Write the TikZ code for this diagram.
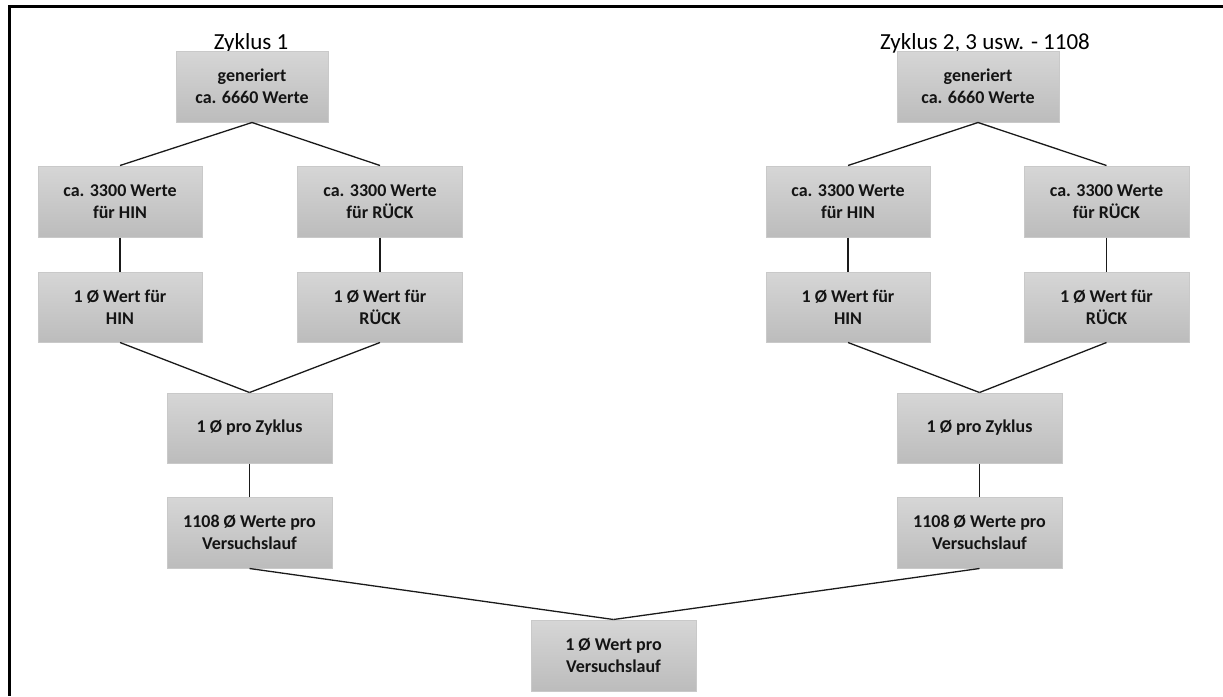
\documentclass[tikz,border=0pt]{standalone}
\usepackage{fontspec}
\setmainfont{Carlito}
\definecolor{boxtop}{HTML}{D6D6D6}
\definecolor{boxbot}{HTML}{BCBCBC}
\definecolor{boxline}{HTML}{C9C9C9}
\definecolor{txt}{HTML}{141414}
\definecolor{conn}{HTML}{1A1A1A}
\tikzset{
  box/.style={draw=boxline, line width=1pt, top color=boxtop, bottom color=boxbot,
    minimum width=165pt, minimum height=71pt, inner sep=0pt, align=center,
    text=txt, font=\bfseries\fontsize{18}{21.8}\selectfont},
  title/.style={anchor=base, inner sep=0pt, text=black, font=\fontsize{23}{27}\selectfont},
  conn/.style={draw=conn, line width=1.3pt}
}
\begin{document}
\begin{tikzpicture}[x=1pt,y=-1pt]
\useasboundingbox (0,0) rectangle (1223,696);
% frame (top and left only)
\coordinate (ftr) at (1223,6.5);
\coordinate (ftl) at (9.5,6.5);
\coordinate (fbl) at (9.5,696);
\draw[line width=2.2pt] (ftr) -- (ftl) -- (fbl);
% titles
\node[title] (t1) at (251,49) {Zyklus 1};
\node[title] (t2) at (985,49) {Zyklus 2, 3 usw. - 1108};
% left cycle
\node[box, minimum width=152pt] (gL) at (252,86.5) {generiert\\ca. 6660 Werte};
\node[box, minimum width=164pt] (hL) at (120,201.5) {ca. 3300 Werte\\für HIN};
\node[box] (rL) at (380,201.5) {ca. 3300 Werte\\für RÜCK};
\node[box, minimum width=164pt, minimum height=70pt] (whL) at (120,307) {1 Ø Wert für\\HIN};
\node[box, minimum height=70pt] (wrL) at (380,307) {1 Ø Wert für\\RÜCK};
\node[box, minimum height=70pt] (zL) at (249.5,428) {1 Ø pro Zyklus};
\node[box] (vL) at (249.5,532.5) {1108 Ø Werte pro\\Versuchslauf};
% right cycle
\node[box, minimum width=162pt] (gR) at (978,86.5) {generiert\\ca. 6660 Werte};
\node[box, minimum width=164pt] (hR) at (848,201.5) {ca. 3300 Werte\\für HIN};
\node[box] (rR) at (1106.5,201.5) {ca. 3300 Werte\\für RÜCK};
\node[box, minimum width=164pt, minimum height=70pt] (whR) at (848,307) {1 Ø Wert für\\HIN};
\node[box, minimum height=70pt] (wrR) at (1106.5,307) {1 Ø Wert für\\RÜCK};
\node[box, minimum height=70pt] (zR) at (979.5,428) {1 Ø pro Zyklus};
\node[box] (vR) at (979.5,532.5) {1108 Ø Werte pro\\Versuchslauf};
% final
\node[box] (fin) at (613.5,655.5) {1 Ø Wert pro\\Versuchslauf};
% connectors
\draw[conn] (gL.south) -- (hL.north);
\draw[conn] (gL.south) -- (rL.north);
\draw[conn] (hL.south) -- (whL.north);
\draw[conn] (rL.south) -- (wrL.north);
\draw[conn] (whL.south) -- (zL.north);
\draw[conn] (wrL.south) -- (zL.north);
\draw[conn] (zL.south) -- (vL.north);
\draw[conn] (gR.south) -- (hR.north);
\draw[conn] (gR.south) -- (rR.north);
\draw[conn] (hR.south) -- (whR.north);
\draw[conn] (rR.south) -- (wrR.north);
\draw[conn] (whR.south) -- (zR.north);
\draw[conn] (wrR.south) -- (zR.north);
\draw[conn] (zR.south) -- (vR.north);
\draw[conn] (vL.south) -- (fin.north);
\draw[conn] (vR.south) -- (fin.north);
\end{tikzpicture}
\end{document}
